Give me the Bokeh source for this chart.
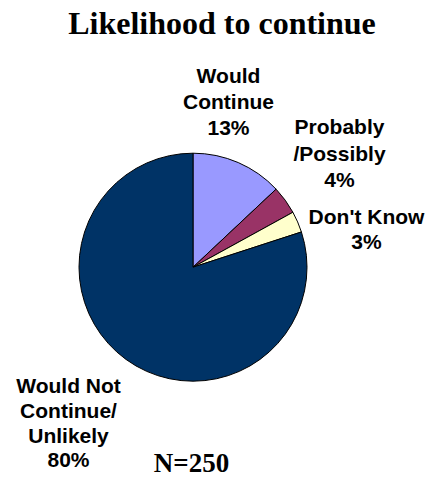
import math
from bokeh.plotting import figure
from bokeh.models import ColumnDataSource, Range1d
from bokeh.core.properties import value
from bokeh.embed import file_html
from bokeh.resources import INLINE

# ---- data ----
categories = ["Would Continue", "Probably /Possibly", "Don't Know", "Would Not Continue/ Unlikely"]
label_lines = [["Would", "Continue"], ["Probably", "/Possibly"], ["Don't Know"], ["Would Not", "Continue/", "Unlikely"]]
values = [13, 4, 3, 80]
colors = ["#9999FF", "#993366", "#FFFFCC", "#003366"]
title_text = "Likelihood to continue"
note_text = "N=250"

W, H = 426, 483
p = figure(width=W, height=H, x_range=Range1d(0, W), y_range=Range1d(0, H),
           output_backend="svg", toolbar_location=None, min_border=0)
p.axis.visible = False
p.grid.visible = False
p.outline_line_color = None
p.background_fill_color = "white"

def Y(py):
    return H - py

# pie layout
cx, cy, r = 192.5, Y(266.7), 114
total = sum(values)
starts, ends = [], []
cum = 0.0
for v in values:
    a0 = math.pi / 2 - 2 * math.pi * (cum + v) / total
    a1 = math.pi / 2 - 2 * math.pi * cum / total
    starts.append(a0)
    ends.append(a1)
    cum += v

src = ColumnDataSource(dict(start=starts, end=ends, color=colors, cat=categories, val=values))
p.wedge(x=cx, y=cy, radius=r, start_angle="start", end_angle="end",
        fill_color="color", line_color="black", line_width=1, source=src)

# label positions (center x, first baseline px, line step)
label_pos = [(228, 75, 26), (339, 126, 26.7), (366, 216, 25), (68, 385, 24.8)]
tx, ty, tt = [], [], []
for lines, v, (lx, ly, step) in zip(label_lines, values, label_pos):
    allines = lines + [f"{v}%"]
    for i, t in enumerate(allines):
        tx.append(lx)
        ty.append(Y(ly + i * step))
        tt.append(t)
p.text(x=tx, y=ty, text=tt, text_font=value("Liberation Sans"), text_font_style="bold",
       text_font_size="21px", text_align="center", text_baseline="alphabetic", text_color="black")

p.text(x=[221.5], y=[Y(22)], text=[title_text], text_font=value("Liberation Serif"),
       text_font_style="bold", text_font_size="32px", text_align="center",
       text_baseline="alphabetic", text_color="black")
p.text(x=[191], y=[Y(462)], text=[note_text], text_font=value("Liberation Serif"),
       text_font_style="bold", text_font_size="27px", text_align="center",
       text_baseline="alphabetic", text_color="black")

open("out.html", "w").write(file_html(p, INLINE))
